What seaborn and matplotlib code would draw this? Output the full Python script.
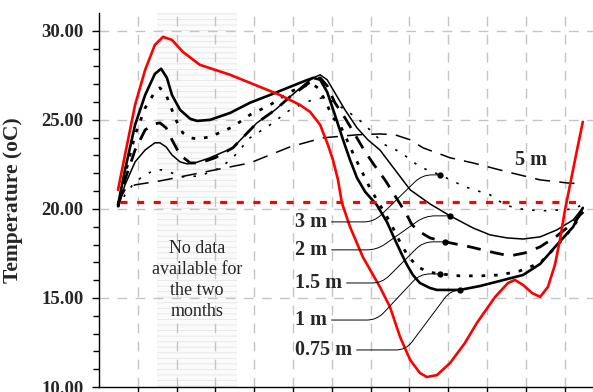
import numpy as np
import pandas as pd
import matplotlib
matplotlib.use("Agg")
import matplotlib.pyplot as plt
import seaborn as sns

# values (x = months, y = temperature in oC)
red_x = [0.49, 0.67, 0.93, 1.19, 1.44, 1.65, 1.88, 2.16, 2.60, 3.38, 3.89, 4.66, 5.18, 5.44, 5.70,
         5.90, 6.03, 6.16, 6.26, 6.47, 6.80, 7.24, 7.50, 7.76, 8.02, 8.27, 8.45, 8.71, 9.05, 9.43,
         9.74, 10.21, 10.54, 10.72, 10.93, 11.16, 11.37, 11.57, 11.75, 11.88, 12.01, 12.14, 12.32, 12.47]
red_y = [21.07, 23.03, 25.84, 27.81, 29.21, 29.66, 29.49, 28.82, 28.09, 27.53, 27.08, 26.40, 25.84, 25.45, 24.72,
         23.60, 22.75, 21.63, 20.34, 18.99, 17.30, 15.62, 14.49, 12.81, 11.52, 10.79, 10.56, 10.67, 11.35, 12.47,
         13.60, 15.06, 15.84, 16.01, 15.73, 15.28, 15.06, 15.62, 16.85, 18.26, 19.94, 21.35, 23.31, 24.89]

d075_x = [0.49, 0.67, 0.93, 1.19, 1.44, 1.60, 1.75, 1.88, 2.09, 2.35, 2.53, 2.86, 3.38, 3.89, 4.41,
          4.92, 5.31, 5.52, 5.70, 5.88, 6.08, 6.29, 6.47, 6.65, 6.86, 7.16, 7.42, 7.63, 7.81, 7.94,
          8.09, 8.27, 8.53, 8.71, 9.30, 9.82, 10.34, 10.93, 11.37, 11.80, 12.22, 12.47]
d075_y = [20.22, 22.19, 24.72, 26.40, 27.58, 27.87, 27.36, 26.40, 25.56, 25.06, 24.94, 25.00, 25.39, 25.96, 26.40,
          26.85, 27.19, 27.36, 27.25, 26.57, 25.28, 23.88, 22.75, 21.74, 20.96, 20.22, 19.27, 18.26, 17.42, 16.85,
          16.29, 15.84, 15.56, 15.45, 15.45, 15.67, 15.96, 16.29, 16.91, 17.98, 18.99, 20.06]

d1_x = [0.49, 0.67, 0.93, 1.19, 1.44, 1.57, 1.73, 1.88, 2.04, 2.16, 2.35, 2.53, 2.86, 3.45, 3.89,
        4.41, 4.92, 5.31, 5.49, 5.64, 5.82, 6.03, 6.21, 6.39, 6.60, 6.78, 6.98, 7.24, 7.50, 7.73,
        7.96, 8.22, 8.48, 8.79, 9.30, 9.82, 10.34, 10.85, 11.37, 11.80, 12.22, 12.47]
d1_y = [20.22, 21.91, 24.16, 25.67, 26.57, 26.80, 26.40, 25.56, 24.72, 24.27, 23.99, 23.93, 24.04, 24.61, 25.28,
        25.84, 26.57, 26.91, 27.02, 26.80, 26.12, 25.11, 24.72, 23.88, 22.87, 22.08, 21.18, 20.22, 19.27, 18.26,
        17.36, 16.74, 16.46, 16.35, 16.24, 16.24, 16.29, 16.52, 16.97, 17.92, 18.99, 19.83]

d15_x = [0.49, 0.67, 0.93, 1.19, 1.44, 1.57, 1.73, 1.88, 2.09, 2.35, 2.60, 2.99, 3.45, 4.07, 4.54,
         4.92, 5.31, 5.52, 5.70, 5.88, 6.08, 6.34, 6.60, 6.83, 7.09, 7.37, 7.63, 7.89, 8.07, 8.27,
         8.53, 8.92, 9.56, 10.21, 10.59, 10.98, 11.37, 11.80, 12.22, 12.47]
d15_y = [20.11, 21.63, 23.31, 24.44, 24.78, 24.83, 24.55, 23.88, 23.03, 22.58, 22.58, 22.87, 23.43, 24.83, 25.56,
         26.29, 26.91, 27.25, 27.36, 26.91, 25.96, 25.11, 24.16, 23.31, 22.47, 21.63, 20.73, 19.83, 19.10, 18.71,
         18.37, 18.15, 17.87, 17.53, 17.36, 17.53, 17.87, 18.48, 19.21, 19.83]

d2_x = [0.49, 0.67, 0.93, 1.19, 1.44, 1.57, 1.73, 1.88, 2.09, 2.27, 2.47, 2.86, 3.45, 4.07, 4.54,
        4.92, 5.31, 5.52, 5.70, 5.88, 6.08, 6.34, 6.65, 6.93, 7.24, 7.63, 8.02, 8.53, 9.05, 9.64,
        10.08, 10.52, 10.93, 11.37, 11.80, 12.22, 12.47]
d2_y = [20.11, 21.35, 22.64, 23.31, 23.71, 23.71, 23.48, 23.03, 22.64, 22.53, 22.58, 22.87, 23.43, 24.83, 25.56,
        26.29, 27.02, 27.36, 27.53, 27.25, 26.52, 25.56, 24.55, 23.88, 23.31, 22.19, 21.07, 20.28, 19.61, 18.93,
        18.54, 18.37, 18.31, 18.43, 18.82, 19.38, 20.06]

d3_x = [0.49, 0.67, 0.93, 1.19, 1.44, 1.62, 1.88, 2.16, 2.60, 3.12, 3.45, 3.89, 4.41, 4.92, 5.31,
        5.57, 5.82, 6.08, 6.34, 6.65, 6.98, 7.37, 7.76, 8.27, 8.79, 9.43, 10.08, 10.46, 10.85, 11.37,
        11.88, 12.27, 12.47]
d3_y = [20.11, 20.79, 21.52, 21.91, 22.19, 22.19, 22.02, 21.80, 21.85, 22.30, 22.87, 23.99, 24.72, 25.56, 25.96,
        26.18, 26.24, 25.96, 25.56, 25.11, 24.44, 23.60, 23.20, 22.36, 21.91, 21.24, 20.79, 20.22, 20.00, 19.89,
        19.94, 20.00, 20.28]

d5_x = [0.49, 0.67, 0.93, 1.57, 2.60, 3.89, 4.92, 5.77, 6.65, 7.24, 7.63, 8.02, 8.35, 9.05, 9.64,
        10.52, 11.37, 12.06, 12.47]
d5_y = [20.34, 21.07, 21.35, 21.57, 22.02, 22.58, 23.48, 23.99, 24.16, 24.21, 24.16, 23.88, 23.43, 22.87, 22.58,
        22.08, 21.63, 21.46, 21.40]

ref_x = [0.55, 12.45]
ref_y = [20.39, 20.39]

depth_labels = ["3 m", "2 m", "1.5 m", "1 m", "0.75 m"]
label_pt_x = [8.79, 9.05, 8.92, 8.79, 9.30]
label_pt_y = [21.91, 19.61, 18.15, 16.35, 15.45]
label_txt_x = [5.05, 5.05, 5.05, 5.05, 5.05]
label_txt_y = [19.27, 17.70, 15.84, 13.76, 12.08]
label_arms = [(47, 18), (50, 25), (40, 22), (50, 20), (54, 9)]

sns.set_theme(style="white")
plt.rcParams["font.family"] = ["Liberation Serif", "DejaVu Serif"]
plt.rcParams["hatch.linewidth"] = 0.6

fig = plt.figure(figsize=(5.93, 3.92), dpi=100)
ax = fig.add_axes([99 / 593, 5 / 392, 494 / 593, 374 / 392])

# no-data band
ax.axvspan(1.5, 3.55, facecolor="#fbfbfb", edgecolor="#e6e6e6", hatch="---", linewidth=0, zorder=0)

grid_kw = dict(color="#c4c4c4", linewidth=1.0, linestyle=(0, (7, 6)), zorder=0.5)
for gx in range(1, 13):
    ax.axvline(gx, **grid_kw)
for gy in [15, 20, 25, 30]:
    ax.axhline(gy, **grid_kw)

series = [
    (d5_x, d5_y, dict(color="black", linewidth=1.1, linestyle=(0, (10, 6)))),
    (d3_x, d3_y, dict(color="black", linewidth=1.2, linestyle=(0, (1.5, 5.5)))),
    (d2_x, d2_y, dict(color="black", linewidth=1.1, linestyle="-")),
    (d15_x, d15_y, dict(color="black", linewidth=2.0, linestyle=(0, (5, 3.5)))),
    (d1_x, d1_y, dict(color="black", linewidth=2.0, linestyle=(0, (1.3, 3.2)))),
    (d075_x, d075_y, dict(color="black", linewidth=1.9, linestyle="-")),
    (red_x, red_y, dict(color="#ff0000", linewidth=1.9, linestyle="-")),
]
for xs, ys, kw in series:
    sns.lineplot(x=xs, y=ys, ax=ax, sort=False, estimator=None, zorder=3, **kw)

sns.lineplot(x=ref_x, y=ref_y, ax=ax, color="#ff0000", linewidth=2.3,
             linestyle=(0, (2.2, 3.0)), zorder=4)

for lab, px, py, tx, ty, (aa, ab) in zip(depth_labels, label_pt_x, label_pt_y,
                                          label_txt_x, label_txt_y, label_arms):
    ax.annotate(lab, xy=(px, py), xytext=(tx, ty), ha="left", va="center",
                fontsize=14.5, fontweight="bold", zorder=5,
                arrowprops=dict(arrowstyle="-", color="black", lw=0.7, relpos=(1, 0.5),
                                shrinkA=1, shrinkB=0,
                                connectionstyle=f"arc,angleA=0,angleB=180,armA={aa},armB={ab},rad=10"))
    ax.plot(px, py, "o", color="black", markersize=3.5, zorder=6)

ax.text(11.13, 22.75, "5 m", ha="center", va="center", fontsize=14.5, fontweight="bold")
ax.text(2.53, 16.0, "No data\navailable for\nthe two\nmonths", ha="center", va="center",
        fontsize=13, linespacing=1.3)

ax.set_xlim(0, 494 / 38.8)
ax.set_ylim(10, 31.0)
ax.set_xticks(range(1, 13))
ax.set_xticklabels([])
ax.set_yticks([10, 15, 20, 25, 30])
ax.set_yticklabels(["10.00", "15.00", "20.00", "25.00", "30.00"])
ax.set_yticks(np.arange(11, 31, 1), minor=True)
ax.tick_params(axis="y", which="major", direction="out", length=5, width=1, pad=6,
               labelsize=13.5, left=True, color="black")
ax.tick_params(axis="y", which="minor", direction="out", length=4, width=1, left=True, color="black")
ax.tick_params(axis="x", which="major", direction="out", length=4, width=1, bottom=True, color="black")
for lab in ax.get_yticklabels():
    lab.set_fontweight("bold")

for side in ["top", "right"]:
    ax.spines[side].set_visible(False)
for side in ["left", "bottom"]:
    ax.spines[side].set_color("black")
    ax.spines[side].set_linewidth(1.0)

ax.set_xlabel("")
ax.set_ylabel("Temperature (oC)", fontsize=15.5, fontweight="bold")
ax.yaxis.set_label_coords((23 - 99) / 494, (392 - 200 - 5) / 374)

fig.savefig("out.png", dpi=100)
